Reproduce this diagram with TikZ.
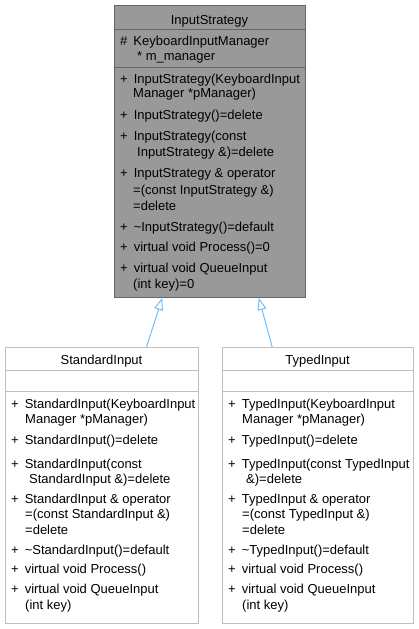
\documentclass[tikz,border=0pt]{standalone}
\usepackage{fontspec}
\setmainfont{Liberation Sans}
\usetikzlibrary{arrows.meta}
\definecolor{parentfill}{HTML}{999999}
\definecolor{parentline}{HTML}{666666}
\definecolor{childline}{HTML}{BFBFBF}
\definecolor{inhblue}{HTML}{63B8FF}
\newcommand\plusgap{+\hspace{6pt}}
\begin{document}
\begin{tikzpicture}[x=1pt,y=-1pt,
  txt/.style={anchor=base west, inner sep=0pt, font=\fontsize{13}{15}\selectfont},
  ttl/.style={anchor=base, inner sep=0pt, font=\fontsize{13}{15}\selectfont},
  parentbox/.style={draw=parentline, fill=parentfill, line width=1pt, anchor=north west, inner sep=0pt},
  childbox/.style={draw=childline, fill=white, line width=1pt, anchor=north west, inner sep=0pt},
  sepp/.style={draw=parentline, line width=1pt},
  sepc/.style={draw=childline, line width=1pt},
  inh/.style={draw=inhblue, line width=0.9pt, -{Triangle[open, length=12pt, width=9pt, line width=0.9pt]}},
]
\useasboundingbox (0,0) rectangle (419,629);

% parent class
\node[parentbox, minimum width=191pt, minimum height=292pt] (base) at (114,5) {};
\draw[sepp] (114,29) -- (305,29);
\draw[sepp] (114,67) -- (305,67);
\node[ttl] (basetitle) at (209.5,24) {InputStrategy};
\foreach \x/\y/\t [count=\i] in {
  120/45.7/{\#\hspace{6pt}KeyboardInputManager},
  137/60/{* m\_manager},
  120/83/{\plusgap InputStrategy(KeyboardInput},
  133/97/{Manager *pManager)},
  120/119/{\plusgap InputStrategy()=delete},
  120/140/{\plusgap InputStrategy(const},
  137/156.7/{InputStrategy \&)=delete},
  120/177.7/{\plusgap InputStrategy \& operator},
  133/194/{=(const InputStrategy \&)},
  133/210/{=delete},
  120/231.7/{\plusgap \textasciitilde InputStrategy()=default},
  120/251.7/{\plusgap virtual void Process()=0},
  120/272.7/{\plusgap virtual void QueueInput},
  133/288.3/{(int key)=0}}
  \node[txt] (b\i) at (\x,\y) {\t};

% StandardInput
\node[childbox, minimum width=193pt, minimum height=276pt] (std) at (5,347) {};
\draw[sepc] (5,370.5) -- (198,370.5);
\draw[sepc] (5,391) -- (198,391);
\node[ttl] (stdtitle) at (101.5,364) {StandardInput};
\foreach \x/\y/\t [count=\i] in {
  11/408/{\plusgap StandardInput(KeyboardInput},
  25/423/{Manager *pManager)},
  11/444/{\plusgap StandardInput()=delete},
  11/468/{\plusgap StandardInput(const},
  29/483/{StandardInput \&)=delete},
  11/503/{\plusgap StandardInput \& operator},
  25/518/{=(const StandardInput \&)},
  25/534/{=delete},
  11/554/{\plusgap \textasciitilde StandardInput()=default},
  11/573/{\plusgap virtual void Process()},
  11/593/{\plusgap virtual void QueueInput},
  25/609/{(int key)}}
  \node[txt] (s\i) at (\x,\y) {\t};

% TypedInput
\node[childbox, minimum width=191pt, minimum height=276pt] (typ) at (222,347) {};
\draw[sepc] (222,370.5) -- (413,370.5);
\draw[sepc] (222,391) -- (413,391);
\node[ttl] (typtitle) at (317.5,364) {TypedInput};
\foreach \x/\y/\t [count=\i] in {
  228/408/{\plusgap TypedInput(KeyboardInput},
  242/423/{Manager *pManager)},
  228/444/{\plusgap TypedInput()=delete},
  228/468/{\plusgap TypedInput(const TypedInput},
  246/483/{\&)=delete},
  228/503/{\plusgap TypedInput \& operator},
  242/518/{=(const TypedInput \&)},
  242/534/{=delete},
  228/554/{\plusgap \textasciitilde TypedInput()=default},
  228/573/{\plusgap virtual void Process()},
  228/593/{\plusgap virtual void QueueInput},
  242/609/{(int key)}}
  \node[txt] (t\i) at (\x,\y) {\t};

% inheritance
\draw[inh] ([xshift=44.5pt]std.north) -- ([xshift=-47.8pt]base.south);
\draw[inh] ([xshift=-45.8pt]typ.north) -- ([xshift=48.8pt]base.south);
\end{tikzpicture}
\end{document}
